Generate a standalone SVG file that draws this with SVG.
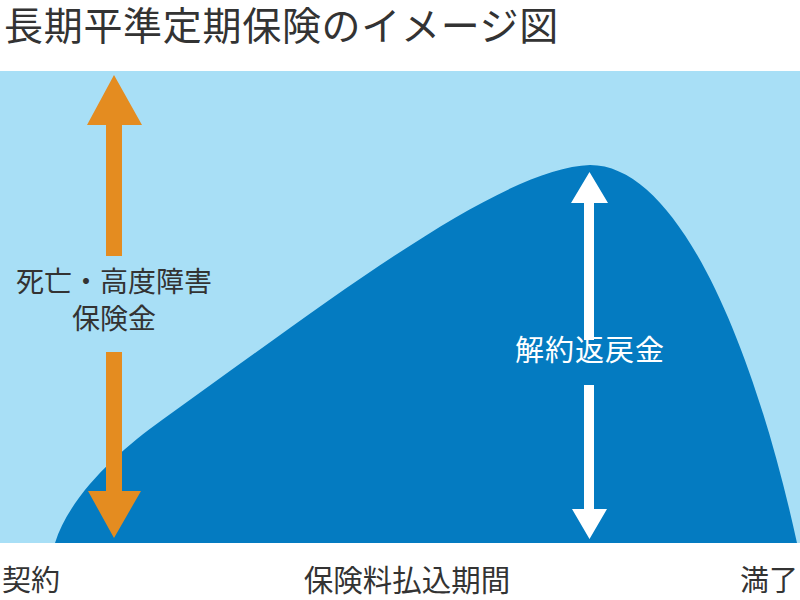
<svg xmlns="http://www.w3.org/2000/svg" width="800" height="600" viewBox="0 0 800 600">
<style>
.t{font-family:"Noto Sans CJK JP","Noto Sans",sans-serif;fill:#333333}
.w{fill:#ffffff}
.o{fill:#e48c20}
</style>
<rect width="800" height="600" fill="#ffffff"/>
<g id="title"><text class="t" x="4" y="40" font-size="39" letter-spacing="0.7">長期平準定期保険のイメージ図</text></g>
<g id="background"><rect x="0" y="71" width="800" height="472" fill="#a8dff6"/></g>
<g id="curve"><path d="M55,543 C70,495 120,450 162,420 C330,300 500,168 590,165 C680,165 755,350 797,543 Z" fill="#047bc1"/></g>
<g id="connectors">
<path class="o" d="M114,75 L142,125 L122,125 L122,256 L106,256 L106,125 L87,125 Z"/>
<path class="o" d="M114,538 L141,491 L122,491 L122,352 L106,352 L106,491 L88,491 Z"/>
<path class="w" d="M589.5,172 L608,203 L594,203 L594,340 L584,340 L584,203 L571,203 Z"/>
<path class="w" d="M589.5,539 L607,509 L594,509 L594,385 L584,385 L584,509 L572,509 Z"/>
</g>
<g id="death-label"><text class="t" font-size="28" text-anchor="middle"><tspan x="114" y="292">死亡・高度障害</tspan><tspan x="114" y="329">保険金</tspan></text></g>
<g id="surrender-label"><text class="t w" x="590" y="361" font-size="29" text-anchor="middle" letter-spacing="1">解約返戻金</text></g>
<g id="axis-labels">
<text class="t" x="2" y="591" font-size="29">契約</text>
<text class="t" x="407" y="591" font-size="29.5" text-anchor="middle">保険料払込期間</text>
<text class="t" x="798" y="591" font-size="29" text-anchor="end">満了</text>
</g>
</svg>
